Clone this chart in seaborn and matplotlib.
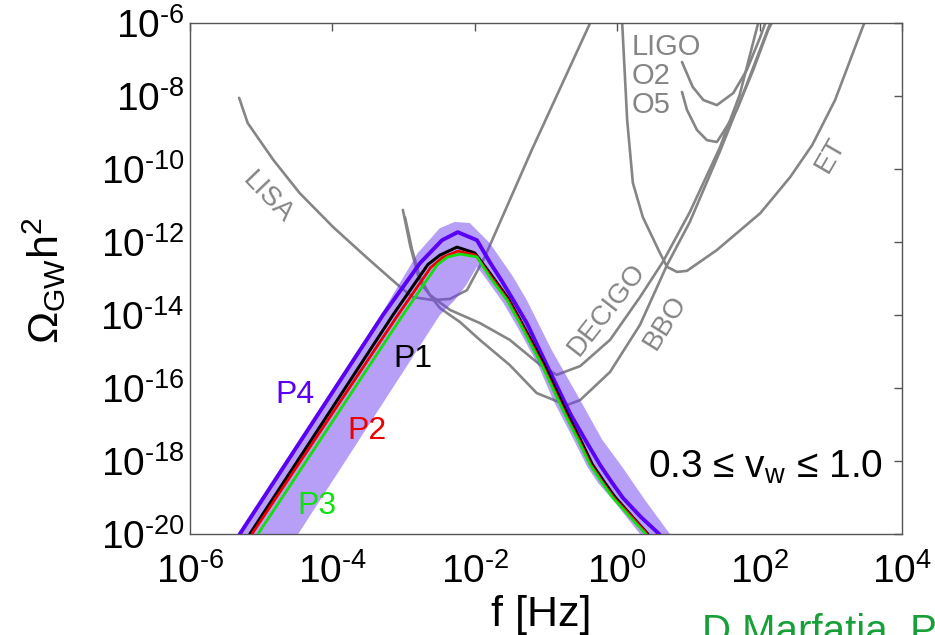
import numpy as np
import pandas as pd
import matplotlib
matplotlib.use("Agg")
import matplotlib.pyplot as plt
from matplotlib.ticker import NullLocator
import seaborn as sns

# ---- data: log10 f [Hz] and log10 Omega_GW h^2 along each curve ----
lisa_logf = [-5.31, -5.19, -4.83, -4.46, -3.99, -3.51, -3.05, -2.87, -2.59, -2.35, -2.11, -1.86, -1.20, -0.38]
lisa_logo = [-8.05, -8.74, -9.75, -10.66, -11.59, -12.44, -13.23, -13.51, -13.59, -13.56, -13.32, -12.41, -9.48, -6.0]

decigo_logf = [-3.01, -2.91, -2.80, -2.63, -2.35, -1.93, -1.51, -1.08, -0.85, -0.52, -0.10, 0.32, 0.64, 1.02, 1.44, 1.72, 1.98]
decigo_logo = [-11.12, -12.08, -12.90, -13.45, -13.86, -14.22, -14.68, -15.37, -15.64, -15.40, -14.68, -13.51, -12.55, -11.18, -9.42, -7.97, -6.0]

bbo_logf = [-2.98, -2.88, -2.74, -2.49, -2.21, -1.93, -1.51, -1.13, -0.71, -0.52, -0.10, 0.32, 0.70, 1.02, 1.44, 1.80, 2.15]
bbo_logo = [-11.32, -12.22, -13.18, -13.81, -14.19, -14.68, -15.37, -16.14, -16.47, -16.33, -15.56, -14.27, -12.63, -11.45, -9.53, -7.78, -6.0]

et_logf = [0.07, 0.14, 0.22, 0.36, 0.60, 0.70, 0.84, 0.98, 1.40, 2.01, 2.43, 2.74, 3.06, 3.47]
et_logo = [-6.0, -8.66, -10.38, -11.32, -12.30, -12.68, -12.82, -12.79, -12.22, -11.21, -10.22, -9.34, -8.11, -6.0]

o2_logf = [0.91, 1.06, 1.21, 1.40, 1.63, 1.82, 2.01, 2.08]
o2_logo = [-7.07, -7.75, -8.11, -8.25, -7.92, -7.29, -6.38, -6.0]

o5_logf = [0.91, 0.98, 1.12, 1.26, 1.40, 1.49, 1.68, 1.91, 2.12, 2.17]
o5_logo = [-7.89, -8.38, -8.93, -9.21, -9.26, -8.99, -8.38, -7.29, -6.19, -6.0]

# benchmark spectra
p4_logf = [-5.30, -3.29, -2.77, -2.46, -2.24, -1.97, -1.79, -1.62, -1.46, -1.27, -0.99, -0.65,
           -0.44, -0.24, -0.07, 0.08, 0.33, 0.59]
p4_logo = [-20.0, -14.0, -12.58, -11.95, -11.73, -11.95, -12.55, -13.07, -13.59, -14.22, -15.37, -16.74,
           -17.45, -18.11, -18.60, -19.01, -19.53, -20.0]

p1_logf = [-5.16, -3.15, -2.66, -2.49, -2.25, -2.00, -1.77, -1.53, -1.35, -1.03, -0.70, -0.52,
           -0.35, -0.18, -0.03, 0.21, 0.43]
p1_logo = [-20.0, -14.0, -12.62, -12.36, -12.14, -12.30, -12.90, -13.55, -14.18, -15.35, -16.72, -17.40,
           -18.09, -18.58, -18.99, -19.52, -20.0]

p2_logf = [-5.13, -3.08, -2.62, -2.45, -2.24, -1.99, -1.78, -1.54, -1.36, -1.05, -0.72, -0.54,
           -0.37, -0.20, -0.05, 0.20, 0.42]
p2_logo = [-20.0, -14.0, -12.70, -12.42, -12.25, -12.36, -12.93, -13.57, -14.20, -15.36, -16.73, -17.41,
           -18.10, -18.59, -19.00, -19.52, -20.0]

p3_logf = [-5.045, -3.01, -2.53, -2.38, -2.21, -1.97, -1.79, -1.55, -1.37, -1.06, -0.73, -0.55,
           -0.38, -0.21, -0.06, 0.18, 0.40]
p3_logo = [-20.0, -14.0, -12.63, -12.41, -12.33, -12.41, -12.96, -13.59, -14.22, -15.37, -16.74, -17.42,
           -18.11, -18.60, -19.01, -19.53, -20.0]

# envelope over 0.3 <= v_w <= 1.0
band_hi_logf = [-5.33, -3.32, -2.80, -2.49, -2.28, -2.07, -1.79, -1.46, -1.27, -0.92, -0.52, -0.21, 0.07, 0.39, 0.74]
band_hi_logo = [-20.0, -14.0, -12.30, -11.62, -11.45, -11.48, -12.03, -12.96, -13.59, -14.96, -16.33, -17.42, -18.16, -19.07, -20.0]
band_lo_logf = [-4.48, -2.49, -2.28, -2.12, -1.97, -1.83, -1.60, -1.41, -1.11, -0.90, -0.61, -0.42, -0.27, -0.06, 0.32]
band_lo_logo = [-20.0, -14.0, -13.59, -13.18, -12.68, -13.04, -13.67, -14.30, -15.37, -16.33, -17.42, -18.16, -18.60, -19.07, -20.0]

x_exponents = [-6, -4, -2, 0, 2, 4]
y_exponents = [-20, -18, -16, -14, -12, -10, -8, -6]

# ---- style ----
sns.set_theme(style="white")
plt.rcParams["font.family"] = ["Liberation Sans", "DejaVu Sans"]
plt.rcParams["mathtext.fontset"] = "custom"
plt.rcParams["mathtext.rm"] = "Liberation Sans"
plt.rcParams["mathtext.it"] = "Liberation Sans:italic"
plt.rcParams["mathtext.bf"] = "Liberation Sans:bold"
plt.rcParams["mathtext.default"] = "regular"

W, H = 935, 635
fig = plt.figure(figsize=(W / 100, H / 100), dpi=100)
fig.patch.set_facecolor("white")


def fx(x):
    return x / W


def fy(y):
    return 1 - y / H


ax = fig.add_axes([fx(190), fy(534), (902 - 190) / W, (534 - 23) / H])
ax.set_xscale("log")
ax.set_yscale("log")
ax.set_xlim(1e-6, 1e4)
ax.set_ylim(1e-20, 1e-6)


def curve(logf, logo, color, lw, z):
    df = pd.DataFrame({"f": 10.0 ** np.asarray(logf), "omega": 10.0 ** np.asarray(logo)})
    sns.lineplot(data=df, x="f", y="omega", sort=False, estimator=None,
                 color=color, lw=lw, ax=ax, zorder=z, legend=False)


GRAY = "#858585"
for lf, lo in [(lisa_logf, lisa_logo), (decigo_logf, decigo_logo), (bbo_logf, bbo_logo),
               (et_logf, et_logo), (o2_logf, o2_logo), (o5_logf, o5_logo)]:
    curve(lf, lo, GRAY, 1.9, 2)

# shaded v_w range
poly_f = 10.0 ** np.concatenate([band_hi_logf, band_lo_logf[::-1]])
poly_o = 10.0 ** np.concatenate([band_hi_logo, band_lo_logo[::-1]])
ax.fill(poly_f, poly_o, facecolor="#7040f0", alpha=0.5, edgecolor="none", zorder=3)

PURPLE = "#5a00f5"
RED = "#ee0000"
GREEN = "#10e010"
curve(p4_logf, p4_logo, PURPLE, 2.8, 4)
curve(p1_logf, p1_logo, "black", 2.2, 5)
curve(p2_logf, p2_logo, RED, 2.0, 6)
curve(p3_logf, p3_logo, GREEN, 2.0, 7)

# ---- axes ----
ax.set_xticks(10.0 ** np.array(x_exponents, dtype=float))
ax.set_xticklabels([r"$10^{\text{-}%d}$" % -e if e < 0 else r"$10^{%d}$" % e for e in x_exponents])
ax.set_yticks(10.0 ** np.array(y_exponents, dtype=float))
ax.set_yticklabels([r"$10^{\text{-}%d}$" % -e for e in y_exponents])
ax.xaxis.set_minor_locator(NullLocator())
ax.yaxis.set_minor_locator(NullLocator())
ax.tick_params(which="major", direction="in", length=6, width=1.0, color="#555555",
               top=True, right=True, labelsize=28, labelcolor="black")
ax.tick_params(axis="x", pad=14)
ax.tick_params(axis="y", pad=4)
for s in ax.spines.values():
    s.set_color("#555555")
    s.set_linewidth(1.0)
ax.set_xlabel("")
ax.set_ylabel("")

fig.text(fx(44), fy(280), r"Ω$_{GW}$h$^{2}$", rotation=90, ha="center", va="center",
         fontsize=31, color="black")
fig.text(fx(541), fy(626), "f [Hz]", ha="center", va="baseline", fontsize=31, color="black")

# detector labels
lab = dict(color=GRAY, fontsize=20, ha="center", va="center", zorder=8)
fig.text(fx(268), fy(198), "LISA", rotation=-46, **lab)
fig.text(fx(632), fy(55), "LIGO", ha="left", va="baseline", color=GRAY, fontsize=21)
fig.text(fx(632), fy(84), "O2", ha="left", va="baseline", color=GRAY, fontsize=21)
fig.text(fx(632), fy(113), "O5", ha="left", va="baseline", color=GRAY, fontsize=21)
fig.text(fx(831), fy(155), "ET", rotation=60, **lab)
fig.text(fx(607), fy(310), "DECIGO", rotation=52, **lab)
fig.text(fx(665), fy(322), "BBO", rotation=58, **lab)

# benchmark labels
plab = dict(fontsize=23, ha="center", va="center")
fig.text(fx(413), fy(359), "P1", color="black", **plab)
fig.text(fx(295), fy(395), "P4", color=PURPLE, **plab)
fig.text(fx(367), fy(431), "P2", color=RED, **plab)
fig.text(fx(317), fy(506), "P3", color=GREEN, **plab)

fig.text(fx(883), fy(467), r"0.3 ≤ v$_{w}$ ≤ 1.0", ha="right", va="center",
         fontsize=28, color="black")

fig.text(fx(702), fy(643), "D Marfatia, P", ha="left", va="baseline",
         fontsize=29, color="#18a038")

fig.savefig("out.png", dpi=100)
